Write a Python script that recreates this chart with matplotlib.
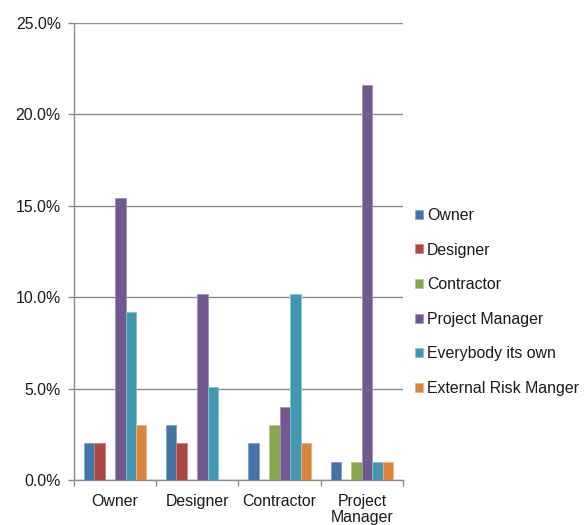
import numpy as np
import matplotlib
matplotlib.use("Agg")
import matplotlib.pyplot as plt
from matplotlib.patches import Patch
from matplotlib.ticker import FuncFormatter, MultipleLocator

plt.rcParams['font.family'] = ['Liberation Sans', 'DejaVu Sans']

categories = ["Owner", "Designer", "Contractor", "Project\nManager"]
series_names = ["Owner", "Designer", "Contractor", "Project Manager",
                "Everybody its own", "External Risk Manger"]

# percentage of responses per category
owner_vals       = [2.0, 3.0, 2.0, 1.0]
designer_vals    = [2.0, 2.0, 0.0, 0.0]
contractor_vals  = [0.0, 0.0, 3.0, 1.0]
pm_vals          = [15.4, 10.2, 4.0, 21.6]
everybody_vals   = [9.2, 5.1, 10.2, 1.0]
external_vals    = [3.0, 0.0, 2.0, 1.0]

series_values = [owner_vals, designer_vals, contractor_vals,
                 pm_vals, everybody_vals, external_vals]
colors = ["#4572A7", "#AA4643", "#89A54E", "#71588F", "#4198AF", "#DB843D"]
edges = ["#7FA0CC", "#C98280", "#B0C98A", "#A291BB", "#86C3D3", "#EDB27F"]

FS = 11.4
TXT = '#1A1A1A'
GRID = '#8C8C8C'

fig = plt.figure(figsize=(5.84, 5.25), dpi=100)
ax = fig.add_axes([74/584, 45/525, (403-74)/584, (480-23)/525])

x = np.arange(len(categories))
n = len(series_values)
bw = 0.127
for i, (vals, c, e) in enumerate(zip(series_values, colors, edges)):
    offs = (i - (n - 1) / 2) * bw
    ax.bar(x + offs, vals, width=bw, color=c, edgecolor=e, linewidth=0.6,
           zorder=3)

ax.set_xlim(-0.5, len(categories) - 0.5)
ax.set_ylim(0, 25)
ax.yaxis.set_major_locator(MultipleLocator(5))
ax.yaxis.set_major_formatter(FuncFormatter(lambda v, p: f"{v:.1f}%"))
ax.grid(axis='y', color=GRID, linewidth=1.0, zorder=0)

ax.set_xticks(x)
ax.set_xticklabels(categories, fontsize=FS, color=TXT, linespacing=1.1)
ax.set_xticks(np.arange(len(categories) + 1) - 0.5, minor=True)
ax.tick_params(axis='x', which='major', length=0, pad=10)
ax.tick_params(axis='x', which='minor', length=4.5, color=GRID, width=1.0)
ax.tick_params(axis='y', length=4.5, color=GRID, width=1.0,
               labelsize=FS, labelcolor=TXT, pad=5)

for s in ['top', 'right']:
    ax.spines[s].set_visible(False)
for s in ['left', 'bottom']:
    ax.spines[s].set_color(GRID)
    ax.spines[s].set_linewidth(1.0)

handles = [Patch(facecolor=c, edgecolor=e, linewidth=0.5) for c, e in zip(colors, edges)]
fig.legend(handles, series_names, loc='center left',
           bbox_to_anchor=(407/584, 1 - 302/525), frameon=False,
           fontsize=FS, handlelength=0.5, handleheight=0.5, borderpad=0,
           handletextpad=0.25, labelspacing=1.24, labelcolor=TXT)

fig.savefig("out.png", dpi=100)
